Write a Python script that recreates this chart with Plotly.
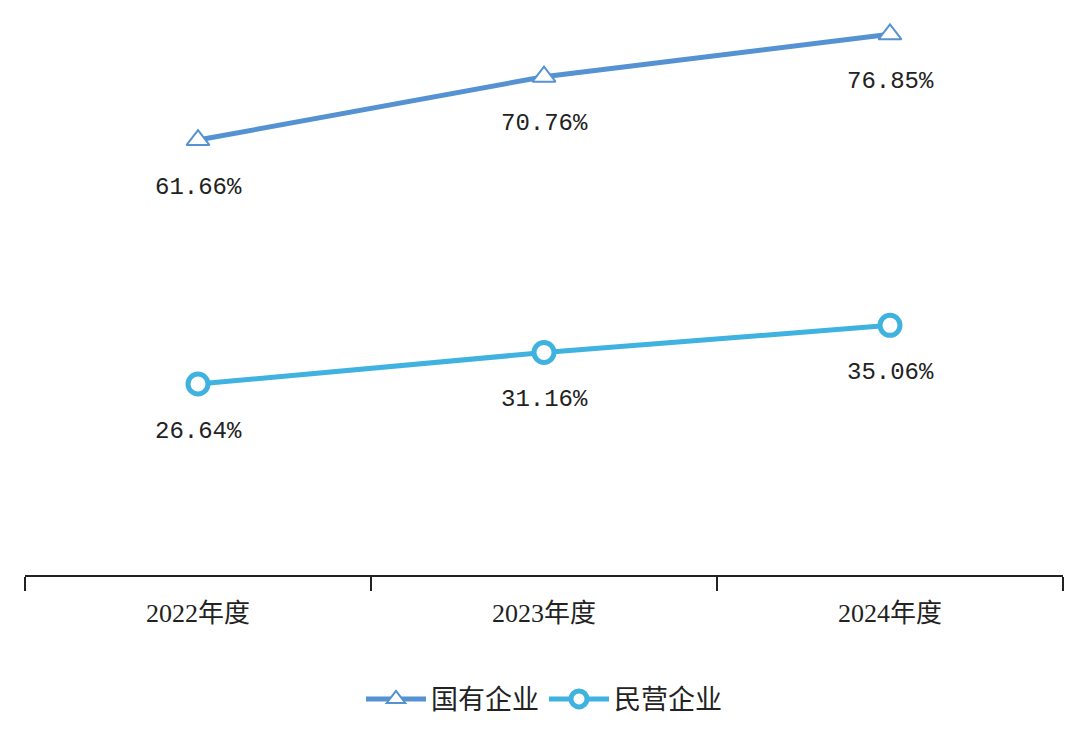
import plotly.graph_objects as go

years = ["2022年度", "2023年度", "2024年度"]
soe = [61.66, 70.76, 76.85]
private = [26.64, 31.16, 35.06]

c1 = "#5592d2"
c2 = "#3fb2e0"
font = "Liberation Mono, DejaVu Sans Mono, Noto Sans CJK SC"

fig = go.Figure()
fig.add_trace(go.Scatter(
    x=years, y=soe, name="国有企业", mode="lines+markers",
    line=dict(color=c1, width=5),
    marker=dict(symbol="triangle-up", size=20, color="white", line=dict(color=c1, width=2)),
))
fig.add_trace(go.Scatter(
    x=years, y=private, name="民营企业", mode="lines+markers",
    line=dict(color=c2, width=5),
    marker=dict(symbol="circle", size=20, color="white", line=dict(color=c2, width=5)),
))

for series in (soe, private):
    for x, v in zip(years, series):
        fig.add_annotation(x=x, y=v, text=f"{v:.2f}%", showarrow=False,
                           yshift=-47, font=dict(size=24, color="#222", family=font))

fig.update_layout(
    width=1080, height=749, plot_bgcolor="white", paper_bgcolor="white",
    margin=dict(l=17, r=25, t=12, b=182),
    font=dict(family=font, color="#222"),
    showlegend=True,
    legend=dict(orientation="h", x=0.5, xanchor="center", y=-0.18, yanchor="top",
                itemwidth=60, font=dict(size=27, family="Noto Sans CJK SC")),
)
fig.update_xaxes(type="category", range=[-0.5, 2.5], showline=True, linecolor="#222",
                 linewidth=2, ticks="outside", tickson="boundaries", ticklen=14,
                 tickcolor="#222", tickwidth=2, ticklabelstandoff=14,
                 tickfont=dict(size=26, family="Liberation Serif, Noto Sans CJK SC"), showgrid=False)
fig.update_yaxes(range=[-0.78, 78.9], visible=False, showgrid=False)

fig.write_html("out.html")
